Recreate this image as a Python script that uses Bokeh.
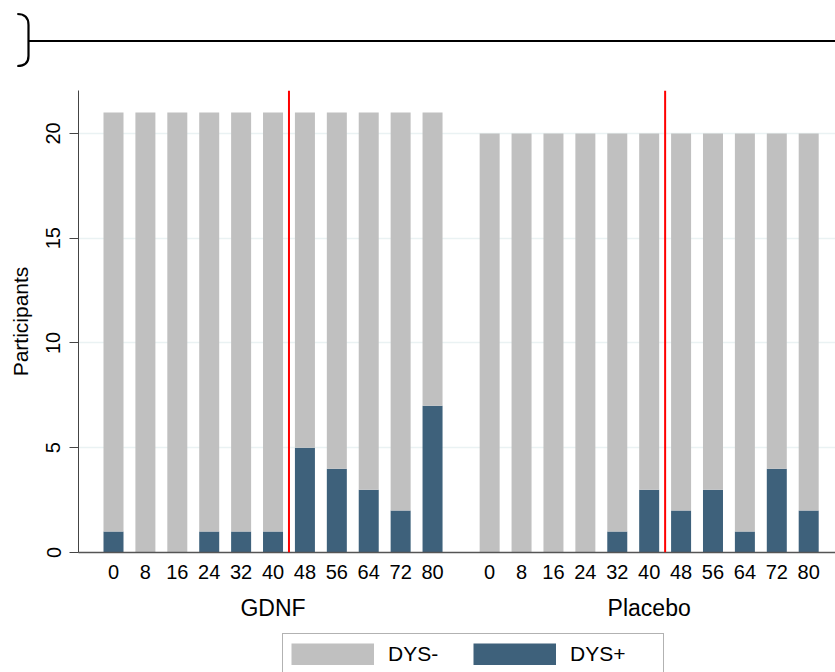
from bokeh.plotting import figure
from bokeh.models import (Range1d, FixedTicker, Span, Legend, LegendItem, LinearAxis,
                          ColumnDataSource, Div)
from bokeh.layouts import column
from bokeh.embed import file_html
from bokeh.resources import INLINE

# ---------------- data ----------------
weeks = [0, 8, 16, 24, 32, 40, 48, 56, 64, 72, 80]
groups = ["GDNF", "Placebo"]
gdnf_dys_pos = [1, 0, 0, 1, 1, 1, 5, 4, 3, 2, 7]
gdnf_dys_neg = [20, 21, 21, 20, 20, 20, 16, 17, 18, 19, 14]
placebo_dys_pos = [0, 0, 0, 0, 1, 3, 2, 3, 1, 4, 2]
placebo_dys_neg = [20, 20, 20, 20, 19, 17, 18, 17, 19, 16, 18]
y_ticks = [0, 5, 10, 15, 20]
y_label = "Participants"
legend_labels = ["DYS-", "DYS+"]
marker_after_week = 40

# ---------------- style / layout ----------------
FONT = "Liberation Sans"
GRAY = "#c0c0c0"
DARK = "#3e617b"
GROUP_OFFSET = 11.79
BAR_WIDTH = 0.627

pos_g = [float(i) for i in range(len(weeks))]
pos_p = [round(i + GROUP_OFFSET, 2) for i in range(len(weeks))]
xs = pos_g + pos_p
src = ColumnDataSource(dict(
    x=xs,
    pos=gdnf_dys_pos + placebo_dys_pos,
    neg=gdnf_dys_neg + placebo_dys_neg,
))

# header decoration (brace + rule) from a cropped figure panel
header_svg = (
    '<svg xmlns="http://www.w3.org/2000/svg" width="835" height="82" style="display:block">'
    '<path d="M17.3,14 Q28.5,14 28.5,25 L28.5,56 Q28.5,66 17.3,66" fill="none" '
    'stroke="black" stroke-width="2.2"/>'
    '<line x1="28.5" y1="41" x2="835" y2="41" stroke="black" stroke-width="2.2"/>'
    '</svg>'
)
header = Div(text=header_svg, width=835, height=82, styles={"margin": "0", "padding": "0"})

p = figure(width=835, height=550, x_range=Range1d(-1.097, 22.63), y_range=Range1d(0, 22.05),
           output_backend="svg", toolbar_location=None,
           min_border_left=78, min_border_right=0, min_border_top=8, min_border_bottom=80)
p.outline_line_color = None
p.background_fill_color = "white"

rs = p.vbar_stack(["pos", "neg"], x="x", width=BAR_WIDTH, source=src,
                  fill_color=[DARK, GRAY], line_color=None)

# grid
p.xgrid.visible = False
p.ygrid.ticker = FixedTicker(ticks=y_ticks)
p.ygrid.grid_line_color = "#eaf2f3"
p.ygrid.grid_line_width = 1.5

# y axis
yax = p.yaxis[0]
yax.ticker = FixedTicker(ticks=y_ticks)
yax.minor_tick_line_color = None
yax.major_tick_out = 9
yax.major_tick_in = 0
yax.major_tick_line_color = "#444444"
yax.axis_line_color = "#444444"
yax.major_label_orientation = "vertical"
yax.major_label_text_font = FONT
yax.major_label_text_font_size = "20px"
yax.major_label_text_color = "black"
yax.major_label_standoff = 9
yax.axis_label = y_label
yax.axis_label_text_font = FONT
yax.axis_label_text_font_size = "21px"
yax.axis_label_text_font_style = "normal"
yax.axis_label_text_color = "black"
yax.axis_label_standoff = 12

# x axis (weeks)
xax = p.xaxis[0]
xax.ticker = FixedTicker(ticks=xs)
xax.major_label_overrides = {x: str(w) for x, w in zip(xs, weeks + weeks)}
xax.major_tick_line_color = None
xax.major_tick_out = 0
xax.minor_tick_line_color = None
xax.axis_line_color = "#555555"
xax.axis_line_width = 1.3
xax.major_label_text_font = FONT
xax.major_label_text_font_size = "20px"
xax.major_label_text_color = "black"
xax.major_label_standoff = 12

# x axis (groups)
centers = [(pos_g[0] + pos_g[-1]) / 2, (pos_p[0] + pos_p[-1]) / 2]
gax = LinearAxis(ticker=FixedTicker(ticks=centers),
                 major_label_overrides={c: g for c, g in zip(centers, groups)},
                 axis_line_color=None, major_tick_line_color=None, minor_tick_line_color=None,
                 major_tick_out=0, major_tick_in=0, major_label_standoff=13,
                 major_label_text_font=FONT, major_label_text_font_size="23px",
                 major_label_text_color="black")
p.add_layout(gax, "below")

# red markers
k = weeks.index(marker_after_week) + 0.5
for loc in [pos_g[0] + k, pos_p[0] + k]:
    p.add_layout(Span(location=loc, dimension="height", line_color="red", line_width=2))

# legend strip (proxy renderers sit outside the visible range; they only feed the legend keys)
lf = figure(width=835, height=40, x_range=Range1d(0, 1), y_range=Range1d(0, 1),
            output_backend="svg", toolbar_location=None,
            min_border_left=78, min_border_right=0, min_border_top=0, min_border_bottom=0,
            x_axis_location=None, y_axis_location=None)
lf.grid.visible = False
lf.outline_line_color = None
r_neg = lf.line(x=[-5, -4], y=[0, 0], line_width=22, line_color=GRAY, line_cap="butt")
r_pos = lf.line(x=[-5, -4], y=[0, 0], line_width=22, line_color=DARK, line_cap="butt")
legend = Legend(items=[LegendItem(label=legend_labels[0], renderers=[r_neg]),
                       LegendItem(label=legend_labels[1], renderers=[r_pos])],
                location=(204, -2.5), orientation="horizontal",
                glyph_width=83, glyph_height=22, label_standoff=14, label_width=85,
                spacing=0, padding=8, margin=0,
                border_line_color="#666666", border_line_width=1.5,
                label_text_font=FONT, label_text_font_size="21px", label_text_color="black",
                background_fill_color="white", background_fill_alpha=1)
lf.add_layout(legend)

layout = column(header, p, lf)
open("out.html", "w").write(file_html(layout, INLINE))
